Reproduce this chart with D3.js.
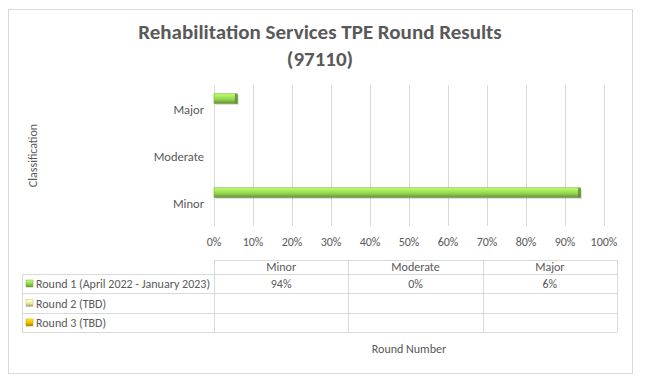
<!DOCTYPE html>
<html>
<head>
<meta charset="utf-8">
<script src="https://cdn.jsdelivr.net/npm/d3@7"></script>
<style>
  body { margin: 0; background: #fff; }
  svg text { font-family: Carlito, "Liberation Sans Narrow", Lato, sans-serif; fill: #595959; }
</style>
</head>
<body>
<div id="chart"></div>
<script>
// Data
const categories = ["Minor", "Moderate", "Major"];
const seriesNames = ["Round 1 (April 2022 - January 2023)", "Round 2 (TBD)", "Round 3 (TBD)"];
const round1 = [0.94, 0, 0.06];
const round2 = [null, null, null];
const round3 = [null, null, null];
const seriesColors = ["#92D050", "#E6E49E", "#E6B800"];
const tickValues = [0, 0.1, 0.2, 0.3, 0.4, 0.5, 0.6, 0.7, 0.8, 0.9, 1];

const width = 647;
const height = 384;
const seriesValues = [round1, round2, round3];

const svg = d3.select("#chart")
  .append("svg")
    .attr("width", width)
    .attr("height", height);

const defs = svg.append("defs");
seriesColors.forEach((c, i) => {
  const g = defs.append("linearGradient")
    .attr("id", `bevel-${i}`)
    .attr("x1", 0).attr("y1", 0).attr("x2", 0).attr("y2", 1);
  g.append("stop").attr("offset", "0%").attr("stop-color", d3.color(c).brighter(0.9));
  g.append("stop").attr("offset", "25%").attr("stop-color", d3.color(c).brighter(0.4));
  g.append("stop").attr("offset", "60%").attr("stop-color", c);
  g.append("stop").attr("offset", "100%").attr("stop-color", d3.color(c).darker(1.1));
});

// Chart frame
svg.append("rect")
  .attr("x", 8.5).attr("y", 9.5)
  .attr("width", 624).attr("height", 364)
  .attr("fill", "#fff")
  .attr("stroke", "#d9d9d9");

// Title
svg.append("text")
  .attr("x", 320).attr("y", 39)
  .attr("text-anchor", "middle")
  .style("font-size", "21px").style("font-weight", "bold")
  .text("Rehabilitation Services TPE Round Results");
svg.append("text")
  .attr("x", 320).attr("y", 66)
  .attr("text-anchor", "middle")
  .style("font-size", "21px").style("font-weight", "bold")
  .text("(97110)");

// Scales
const x = d3.scaleLinear().domain([0, 1]).range([214, 604]);
const y = d3.scaleBand().domain(categories.slice().reverse()).range([85, 226]);
const ys = d3.scaleBand().domain(d3.range(seriesNames.length)).range([0, y.bandwidth()]).paddingOuter(0.9);

// Gridlines
svg.append("g")
  .selectAll("line")
  .data(tickValues)
  .join("line")
    .attr("x1", d => Math.round(x(d)) + 0.5)
    .attr("x2", d => Math.round(x(d)) + 0.5)
    .attr("y1", 85).attr("y2", 226)
    .attr("stroke", "#d9d9d9");

// Tick labels
svg.append("g")
  .selectAll("text")
  .data(tickValues)
  .join("text")
    .attr("x", d => x(d))
    .attr("y", 246)
    .attr("text-anchor", "middle")
    .style("font-size", "12px")
    .text(d => d3.format(".0%")(d));

// Category labels
svg.append("g")
  .selectAll("text")
  .data(categories)
  .join("text")
    .attr("x", 204)
    .attr("y", d => y(d) + y.bandwidth() / 2 + 5)
    .attr("text-anchor", "end")
    .style("font-size", "12.5px")
    .text(d => d);

// Bars
const barData = [];
seriesValues.forEach((vals, si) => {
  vals.forEach((v, ci) => {
    if (v !== null) barData.push({ series: si, cat: categories[ci], value: v });
  });
});

const bars = svg.append("g")
  .selectAll("g")
  .data(barData)
  .join("g")
    .attr("transform", d => `translate(${x(0)}, ${y(d.cat) + ys(d.series)})`);

bars.append("rect")
  .attr("x", 1.5).attr("y", 1.5)
  .attr("width", d => Math.max(0, x(d.value) - x(0)))
  .attr("height", ys.bandwidth())
  .attr("fill", "#000")
  .attr("opacity", d => d.value > 0 ? 0.12 : 0);

bars.append("rect")
  .attr("width", d => x(d.value) - x(0))
  .attr("height", ys.bandwidth())
  .attr("fill", d => `url(#bevel-${d.series})`)
  .attr("stroke", d => d3.color(seriesColors[d.series]).darker(0.6))
  .attr("stroke-width", d => d.value > 0 ? 0.6 : 0);

bars.append("rect")
  .attr("x", d => Math.max(0, x(d.value) - x(0) - 2.5))
  .attr("width", d => d.value > 0 ? 2.5 : 0)
  .attr("height", ys.bandwidth())
  .attr("fill", d => d3.color(seriesColors[d.series]).darker(1.2))
  .attr("opacity", 0.8);

// Axis titles
svg.append("text")
  .attr("transform", `translate(37, ${(85 + 226) / 2}) rotate(-90)`)
  .attr("text-anchor", "middle")
  .style("font-size", "12px")
  .text("Classification");

svg.append("text")
  .attr("x", (x(0) + x(1)) / 2)
  .attr("y", 353)
  .attr("text-anchor", "middle")
  .style("font-size", "12px")
  .text("Round Number");

// Data table
const tableLeft = 22, tableMid = 214, tableRight = 617;
const rowY = [260, 274, 293, 313, 332];
const col = d3.scaleBand().domain(categories).range([tableMid, tableRight]);
const tbl = svg.append("g").attr("stroke", "#d9d9d9").attr("fill", "none");

// horizontal lines
tbl.append("line").attr("x1", tableMid).attr("x2", tableRight).attr("y1", rowY[0] + 0.5).attr("y2", rowY[0] + 0.5);
rowY.slice(1).forEach(yy => {
  tbl.append("line").attr("x1", tableLeft).attr("x2", tableRight).attr("y1", yy + 0.5).attr("y2", yy + 0.5);
});
// vertical lines
tbl.append("line").attr("x1", tableLeft + 0.5).attr("x2", tableLeft + 0.5).attr("y1", rowY[1]).attr("y2", rowY[4]);
categories.forEach(c => {
  tbl.append("line").attr("x1", Math.round(col(c)) + 0.5).attr("x2", Math.round(col(c)) + 0.5).attr("y1", rowY[0]).attr("y2", rowY[4]);
});
tbl.append("line").attr("x1", tableRight + 0.5).attr("x2", tableRight + 0.5).attr("y1", rowY[0]).attr("y2", rowY[4]);

// header
svg.append("g")
  .selectAll("text")
  .data(categories)
  .join("text")
    .attr("x", d => col(d) + col.bandwidth() / 2)
    .attr("y", rowY[0] + 11)
    .attr("text-anchor", "middle")
    .style("font-size", "12px")
    .text(d => d);

// series rows
const rows = svg.append("g")
  .selectAll("g")
  .data(seriesNames)
  .join("g")
    .attr("transform", (d, i) => `translate(0, ${(rowY[i + 1] + rowY[i + 2]) / 2})`);

rows.append("rect")
  .attr("x", 26).attr("y", -3.5)
  .attr("width", 7).attr("height", 7)
  .attr("fill", (d, i) => `url(#bevel-${i})`)
  .attr("stroke", (d, i) => d3.color(seriesColors[i]).darker(0.5))
  .attr("stroke-width", 0.5);

rows.append("text")
  .attr("x", 36).attr("y", 4.5)
  .style("font-size", "12px")
  .text(d => d);

rows.selectAll(".cell")
  .data((d, i) => seriesValues[i].map((v, ci) => ({ v, cat: categories[ci] })))
  .join("text")
    .attr("class", "cell")
    .attr("x", d => col(d.cat) + col.bandwidth() / 2)
    .attr("y", 4.5)
    .attr("text-anchor", "middle")
    .style("font-size", "12px")
    .text(d => d.v === null ? "" : d3.format(".0%")(d.v));
</script>
</body>
</html>
